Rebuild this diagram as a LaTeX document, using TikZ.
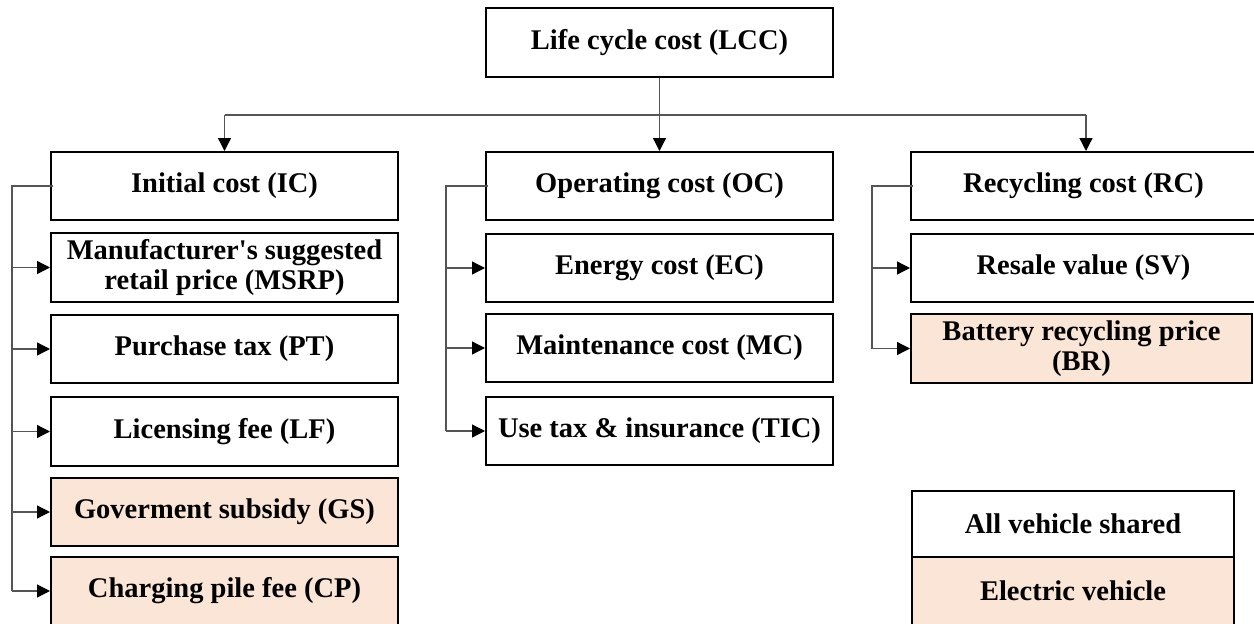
\documentclass[tikz,border=0pt]{standalone}
\usepackage{fontspec}
\setmainfont{Liberation Serif}
\font\aposfont="Liberation Serif/B" at 28.5pt
\newcommand{\sq}{{\aposfont\char"27}}
\usetikzlibrary{arrows.meta}
\definecolor{evfill}{HTML}{FBE5D6}
\definecolor{conncol}{HTML}{555555}
\tikzset{
  box/.style={draw=black, line width=2pt, fill=white, minimum height=68pt, inner sep=0pt,
    align=center, font=\fontsize{28.5}{30}\selectfont\bfseries},
  colL/.style={box, minimum width=347pt},
  colM/.style={box, minimum width=347pt},
  colR/.style={box, minimum width=345pt},
  ev/.style={fill=evfill},
  conn/.style={draw=conncol, line width=1.3pt},
  arr/.style={conn, -{Triangle[length=13pt,width=13pt,color=black,fill=black]}},
}
\begin{document}
\begin{tikzpicture}[x=1pt,y=-1pt]
\useasboundingbox (0,0) rectangle (1254,624);
% top
\node[box, minimum width=347pt, minimum height=69pt] (LCC) at (659.5,42.5) {Life cycle cost (LCC)};
% left column
\node[colL] (IC)   at (224.5,186) {Initial cost (IC)};
\node[colL, minimum height=69pt] (MSRP) at (224.5,267.5) {Manufacturer\sq s suggested\\retail price (MSRP)};
\node[colL] (PT)   at (224.5,349) {Purchase tax (PT)};
\node[colL, minimum height=69pt] (LF)   at (224.5,431.5) {Licensing fee (LF)};
\node[colL, ev] (GS)   at (224.5,512) {Goverment subsidy (GS)};
\node[colL, ev] (CP)   at (224.5,591) {Charging pile fee (CP)};
% middle column
\node[colM] (OC)  at (659.5,186) {Operating cost (OC)};
\node[colM] (EC)  at (659.5,268) {Energy cost (EC)};
\node[colM] (MC)  at (659.5,348) {Maintenance cost (MC)};
\node[colM] (TIC) at (659.5,431) {Use tax \& insurance (TIC)};
% right column
\node[colR] (RC) at (1083.5,186) {Recycling cost (RC)};
\node[colR] (SV) at (1083.5,268) {Resale value (SV)};
\node[box, ev, minimum width=341pt, minimum height=69pt] (BR) at (1081.5,348.5) {Battery recycling price\\(BR)};
% legend
\node[box, minimum width=322pt, minimum height=66pt] (LA) at (1073,524) {All vehicle shared};
\node[box, ev, minimum width=322pt, minimum height=68pt] (LE) at (1073,591) {Electric vehicle};
% connector coordinates
\coordinate (bar) at (0,115);
\coordinate (lxL) at (12,0);
\coordinate (lxM) at (446,0);
\coordinate (lxR) at (872,0);
\coordinate (rcx) at (1086,0);
% top connectors
\draw[arr] (LCC.south) -- (OC.north);
\draw[conn] (IC |- bar) -- (rcx |- bar);
\draw[arr] (IC |- bar) -- (IC.north);
\draw[arr] (rcx |- bar) -- (rcx |- RC.north);
% left column connectors
\draw[conn] ([xshift=3pt]IC.west) -- (lxL |- IC) -- (lxL |- CP);
\foreach \n in {MSRP,PT,LF,GS,CP} \draw[arr] (lxL |- \n) -- (\n.west);
% middle column connectors
\draw[conn] ([xshift=3pt]OC.west) -- (lxM |- OC) -- (lxM |- TIC);
\foreach \n in {EC,MC,TIC} \draw[arr] (lxM |- \n) -- (\n.west);
% right column connectors
\draw[conn] ([xshift=3pt]RC.west) -- (lxR |- RC) -- (lxR |- BR);
\foreach \n in {SV,BR} \draw[arr] (lxR |- \n) -- (\n.west);
\end{tikzpicture}
\end{document}
